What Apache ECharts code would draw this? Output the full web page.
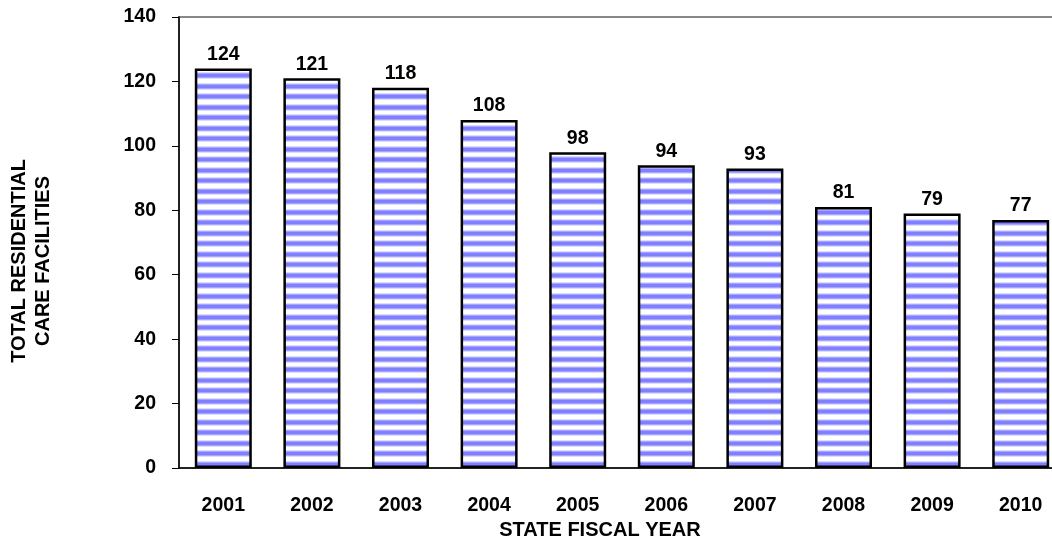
<!DOCTYPE html>
<html>
<head>
<meta charset="utf-8">
<script src="https://cdn.jsdelivr.net/npm/echarts@6/dist/echarts.min.js"></script>
<style>
  html, body { margin: 0; padding: 0; background: #fff; }
  #chart { width: 1052px; height: 541px; }
</style>
</head>
<body>
<div id="chart"></div>
<script>
const years = ['2001', '2002', '2003', '2004', '2005', '2006', '2007', '2008', '2009', '2010']
const facilities = [124, 121, 118, 108, 98, 94, 93, 81, 79, 77]
const yTicks = [0, 20, 40, 60, 80, 100, 120, 140]

// horizontal stripe fill like the original bars
function stripes () {
  const rows = ['#a6a6ff', '#7f7fff', '#7f7fff', '#7f7fff', '#a6a6ff', '#dcdcff', '#fff', '#fff', '#fff', '#dcdcff',
    '#a6a6ff', '#7f7fff', '#7f7fff', '#7f7fff', '#a6a6ff', '#dcdcff', '#fff', '#fff', '#fff', '#fff', '#dcdcff']
  const c = document.createElement('canvas')
  c.width = 8
  c.height = rows.length
  const ctx = c.getContext('2d')
  rows.forEach((col, i) => {
    ctx.fillStyle = col
    ctx.fillRect(0, i, 8, 1)
  })
  return c
}

const font = '"Liberation Sans", Arial, sans-serif'
const chart = echarts.init(document.getElementById('chart'))
chart.setOption({
  animation: false,
  grid: {
    left: 179,
    right: -13,
    top: 17,
    bottom: 73,
    containLabel: false,
    outerBoundsMode: 'none',
    show: true,
    borderColor: '#888',
    borderWidth: 2
  },
  xAxis: {
    type: 'category',
    data: years,
    name: 'STATE FISCAL YEAR',
    nameLocation: 'middle',
    nameGap: 50,
    nameTextStyle: { fontFamily: font, fontWeight: 'bold', fontSize: 20, color: '#000', padding: [0, 44, 0, 0] },
    axisLine: { lineStyle: { color: '#000', width: 1.5 } },
    axisTick: { length: 6, lineStyle: { color: '#000' } },
    axisLabel: { margin: 28, fontFamily: font, fontWeight: 'bold', fontSize: 19.5, color: '#000' }
  },
  yAxis: {
    type: 'value',
    min: 0,
    max: 140,
    interval: 20,
    axisLine: { show: true, lineStyle: { color: '#000', width: 1.5 } },
    axisTick: { show: true, length: 7, lineStyle: { color: '#000' } },
    splitLine: { show: false },
    axisLabel: {
      margin: 23,
      fontFamily: font,
      fontWeight: 'bold',
      fontSize: 19.5,
      color: '#000',
      formatter: v => yTicks.includes(v) ? String(v) : ''
    }
  },
  series: [{
    type: 'bar',
    data: facilities,
    barWidth: 57,
    itemStyle: {
      color: { image: stripes(), repeat: 'repeat' },
      borderColor: '#000',
      borderWidth: 2.5
    },
    label: {
      show: true,
      position: 'top',
      distance: 4,
      fontFamily: font,
      fontWeight: 'bold',
      fontSize: 19.5,
      color: '#000'
    }
  }],
  graphic: [{
    type: 'text',
    x: 31,
    y: 261,
    rotation: Math.PI / 2,
    style: {
      text: 'TOTAL RESIDENTIAL\nCARE FACILITIES',
      fontFamily: font,
      fontWeight: 'bold',
      fontSize: 20,
      lineHeight: 24,
      fill: '#000',
      align: 'center',
      verticalAlign: 'middle'
    }
  }]
})
</script>
</body>
</html>
